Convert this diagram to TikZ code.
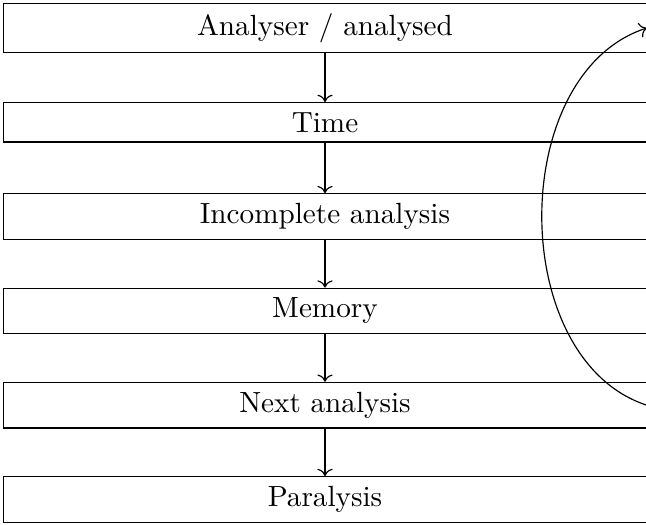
\documentclass[tikz,border=0pt]{standalone}
\usetikzlibrary{arrows.meta}
\begin{document}
\begin{tikzpicture}[x=0.3425pt, y=-0.3425pt,
  stage/.style={draw, text width=7.5cm, align=center},
  flow/.style={->}]
  \useasboundingbox (0,0) rectangle (646,525);
  \node[stage] (analyser) at (325,28)    {Analyser / analysed};
  \node[stage] (time)     at (325,122.3) {Time};
  \node[stage] (incomp)   at (325,216.6) {Incomplete analysis};
  \node[stage] (memory)   at (325,310.9) {Memory};
  \node[stage] (next)     at (325,405.2) {Next analysis};
  \node[stage] (paralysis) at (325,499.5) {Paralysis};
  \draw[flow] (analyser) -- (time);
  \draw[flow] (time) -- (incomp);
  \draw[flow] (incomp) -- (memory);
  \draw[flow] (memory) -- (next);
  \draw[flow] (next) -- (paralysis);
  % feedback loop from the last analysis back to the top
  \draw[flow] (next.east) to[bend left=72] (analyser.east);
\end{tikzpicture}
\end{document}
